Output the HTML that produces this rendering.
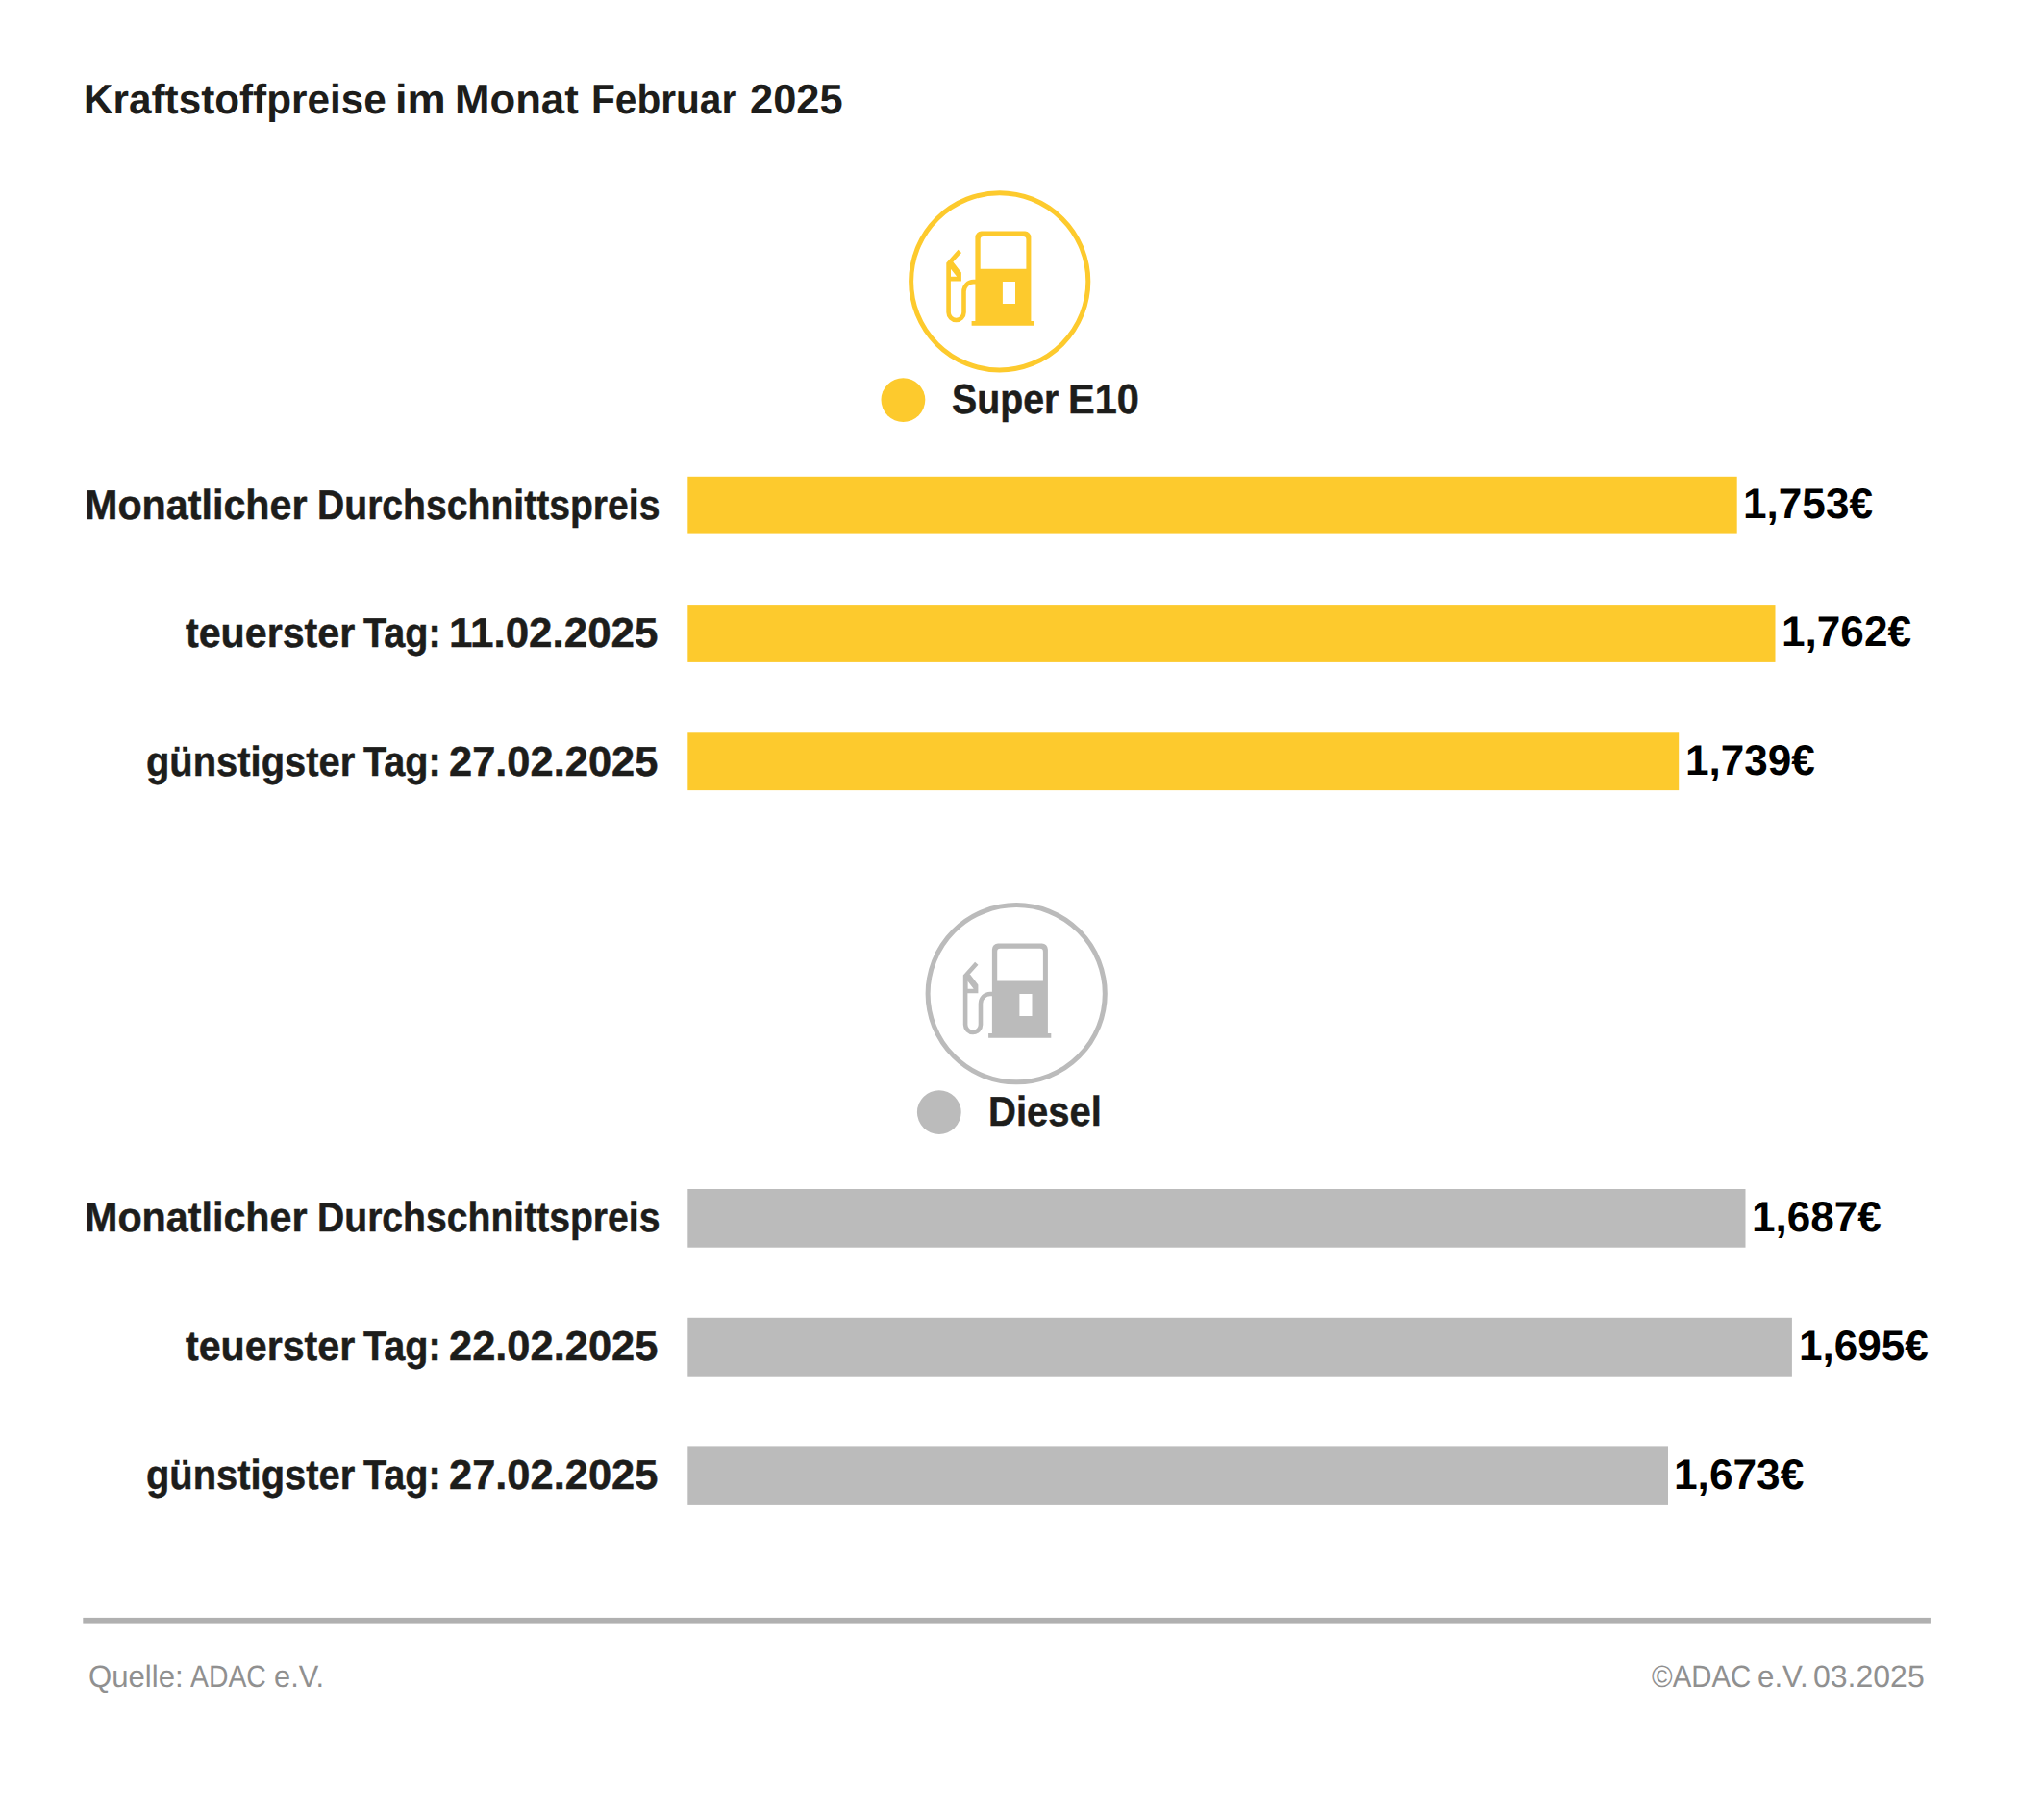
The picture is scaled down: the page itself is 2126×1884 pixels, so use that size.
<!DOCTYPE html>
<html lang="de">
<head>
<meta charset="utf-8">
<title>Kraftstoffpreise im Monat Februar 2025</title>
<style>
html,body{margin:0;padding:0;background:#fff;}
body{width:2126px;height:1884px;position:relative;overflow:hidden;font-family:"Liberation Sans",sans-serif;}
#chart{position:absolute;left:0;top:0;width:2126px;height:1884px;background:#fff;overflow:hidden;}
.p{position:absolute;left:0;white-space:nowrap;line-height:1;margin:0;padding:0;height:1em;width:2126px;text-rendering:geometricPrecision;}
.p span{position:absolute;top:0;display:block;transform-origin:0 0;white-space:nowrap;}
svg{position:absolute;left:0;top:0;}
</style>
</head>
<body>
<div id="chart">
<svg width="2126" height="1884" viewBox="0 0 2126 1884">
<g transform="translate(0.00 0.00)" fill="#FDCA2D" stroke="none">
<circle cx="1039.7" cy="292.8" r="92.1" fill="none" stroke="#FDCA2D" stroke-width="5"/>
<path fill-rule="evenodd" d="M1014.4 334 V246.8 a6.2 6.2 0 0 1 6.2 -6.2 H1066.2 a6.2 6.2 0 0 1 6.2 6.2 V334 H1075.8 V338.8 H1010.6 V334 Z M1019.7 279.7 V249 a3.1 3.1 0 0 1 3.1 -3.1 H1064.3 a3.1 3.1 0 0 1 3.1 3.1 V279.7 Z M1042.9 293 H1056 V316 H1042.9 Z"/>
<path fill="none" stroke="#FDCA2D" stroke-width="4.6" stroke-linejoin="miter" d="M998.3 261.4 L986.6 274.4 V325.1 a7.95 7.95 0 0 0 15.9 0 V303.1 a10 10 0 0 1 10 -10 H1015"/>
<path fill-rule="evenodd" d="M986.6 272.6 L991.4 272.6 L999.9 283.6 V292.4 H986.6 Z M988.9 279.7 L995.2 287.8 H988.9 Z"/>
</g>
<circle cx="939.4" cy="416.1" r="22.9" fill="#FDCA2D"/>
<g transform="translate(17.50 740.90)" fill="#BBBBBB" stroke="none">
<circle cx="1039.7" cy="292.8" r="92.1" fill="none" stroke="#BBBBBB" stroke-width="5"/>
<path fill-rule="evenodd" d="M1014.4 334 V246.8 a6.2 6.2 0 0 1 6.2 -6.2 H1066.2 a6.2 6.2 0 0 1 6.2 6.2 V334 H1075.8 V338.8 H1010.6 V334 Z M1019.7 279.7 V249 a3.1 3.1 0 0 1 3.1 -3.1 H1064.3 a3.1 3.1 0 0 1 3.1 3.1 V279.7 Z M1042.9 293 H1056 V316 H1042.9 Z"/>
<path fill="none" stroke="#BBBBBB" stroke-width="4.6" stroke-linejoin="miter" d="M998.3 261.4 L986.6 274.4 V325.1 a7.95 7.95 0 0 0 15.9 0 V303.1 a10 10 0 0 1 10 -10 H1015"/>
<path fill-rule="evenodd" d="M986.6 272.6 L991.4 272.6 L999.9 283.6 V292.4 H986.6 Z M988.9 279.7 L995.2 287.8 H988.9 Z"/>
</g>
<circle cx="976.8" cy="1157.1" r="22.9" fill="#BBBBBB"/>
<rect x="715.3" y="495.8" width="1091.4" height="59.8" fill="#FDCA2D"/>
<rect x="715.3" y="629.1" width="1131.2" height="59.8" fill="#FDCA2D"/>
<rect x="715.3" y="762.3" width="1030.9" height="59.8" fill="#FDCA2D"/>
<rect x="715.3" y="1237.0" width="1100.2" height="60.7" fill="#BBBBBB"/>
<rect x="715.3" y="1370.8" width="1148.6" height="60.9" fill="#BBBBBB"/>
<rect x="715.3" y="1504.4" width="1019.7" height="61.5" fill="#BBBBBB"/>
<rect x="86.3" y="1682.9" width="1921.6" height="5.7" fill="#b0b0b0"/>
</svg>
<div class="p" id="title" style="top:82.60px;font-size:43.3px;font-weight:700;color:#1d1d1b;"><span style="left:87.09px;transform:scaleX(0.9762)">Kraftstoffpreise</span> <span style="left:410.63px;transform:scaleX(1.0416)">im</span> <span style="left:473.36px;transform:scaleX(1.0099)">Monat</span> <span style="left:614.87px;transform:scaleX(0.9384)">Februar</span> <span style="left:780.36px;transform:scaleX(1.0031)">2025</span></div>
<div class="p" id="leg1" style="top:395.35px;font-size:43.4px;font-weight:700;color:#1d1d1b;-webkit-text-stroke:0.5px #1d1d1b;"><span style="left:989.78px;transform:scaleX(0.9057)">Super</span> <span style="left:1111.07px;transform:scaleX(0.9562)">E10</span></div>
<div class="p" id="leg2" style="top:1136.25px;font-size:43.4px;font-weight:700;color:#1d1d1b;-webkit-text-stroke:0.5px #1d1d1b;"><span style="left:1028.08px;transform:scaleX(0.9219)">Diesel</span></div>
<div class="p" id="yl1" style="top:505.05px;font-size:43.4px;font-weight:700;color:#1d1d1b;-webkit-text-stroke:0.5px #1d1d1b;"><span style="left:88.01px;transform:scaleX(0.9511)">Monatlicher</span> <span style="left:329.72px;transform:scaleX(0.9013)">Durchschnittspreis</span></div>
<div class="p" id="yl2" style="top:638.35px;font-size:43.4px;font-weight:700;color:#1d1d1b;-webkit-text-stroke:0.5px #1d1d1b;"><span style="left:193.10px;transform:scaleX(0.9489)">teuerster</span> <span style="left:377.93px;transform:scaleX(0.9128)">Tag:</span> <span style="left:467.49px;transform:scaleX(1.0126)">11.02.2025</span></div>
<div class="p" id="yl3" style="top:771.65px;font-size:43.4px;font-weight:700;color:#1d1d1b;-webkit-text-stroke:0.5px #1d1d1b;"><span style="left:151.66px;transform:scaleX(0.9193)">günstigster</span> <span style="left:377.93px;transform:scaleX(0.9128)">Tag:</span> <span style="left:466.99px;transform:scaleX(1.0009)">27.02.2025</span></div>
<div class="p" id="gl1" style="top:1246.35px;font-size:43.4px;font-weight:700;color:#1d1d1b;-webkit-text-stroke:0.5px #1d1d1b;"><span style="left:88.01px;transform:scaleX(0.9511)">Monatlicher</span> <span style="left:329.72px;transform:scaleX(0.9013)">Durchschnittspreis</span></div>
<div class="p" id="gl2" style="top:1380.35px;font-size:43.4px;font-weight:700;color:#1d1d1b;-webkit-text-stroke:0.5px #1d1d1b;"><span style="left:193.10px;transform:scaleX(0.9489)">teuerster</span> <span style="left:377.93px;transform:scaleX(0.9128)">Tag:</span> <span style="left:466.99px;transform:scaleX(1.0009)">22.02.2025</span></div>
<div class="p" id="gl3" style="top:1513.75px;font-size:43.4px;font-weight:700;color:#1d1d1b;-webkit-text-stroke:0.5px #1d1d1b;"><span style="left:151.66px;transform:scaleX(0.9193)">günstigster</span> <span style="left:377.93px;transform:scaleX(0.9128)">Tag:</span> <span style="left:466.99px;transform:scaleX(1.0009)">27.02.2025</span></div>
<div class="p" id="yv1" style="top:502.90px;font-size:44.4px;font-weight:700;color:#000000;"><span style="left:1813.45px;transform:scaleX(0.9943)">1,753€</span></div>
<div class="p" id="yv2" style="top:636.40px;font-size:44.4px;font-weight:700;color:#000000;"><span style="left:1853.37px;transform:scaleX(0.9943)">1,762€</span></div>
<div class="p" id="yv3" style="top:769.70px;font-size:44.4px;font-weight:700;color:#000000;"><span style="left:1752.50px;transform:scaleX(0.9929)">1,739€</span></div>
<div class="p" id="gv1" style="top:1244.70px;font-size:44.4px;font-weight:700;color:#000000;"><span style="left:1821.50px;transform:scaleX(0.9929)">1,687€</span></div>
<div class="p" id="gv2" style="top:1378.90px;font-size:44.4px;font-weight:700;color:#000000;"><span style="left:1870.50px;transform:scaleX(0.9928)">1,695€</span></div>
<div class="p" id="gv3" style="top:1512.80px;font-size:44.4px;font-weight:700;color:#000000;"><span style="left:1741.09px;transform:scaleX(0.9968)">1,673€</span></div>
<div class="p" id="f1" style="top:1728.00px;font-size:32.3px;font-weight:400;color:#909090;"><span style="left:92.07px;transform:scaleX(0.9635)">Quelle:</span> <span style="left:197.82px;transform:scaleX(0.8788)">ADAC</span> <span style="left:285.39px;transform:scaleX(0.9535)">e.V.</span></div>
<div class="p" id="f2" style="top:1727.60px;font-size:32.3px;font-weight:400;color:#909090;"><span style="left:1718.12px;transform:scaleX(0.9089)">©ADAC</span> <span style="left:1827.84px;transform:scaleX(0.9679)">e.V.</span> <span style="left:1886.11px;transform:scaleX(0.9909)">03.2025</span></div>
</div>
</body>
</html>
